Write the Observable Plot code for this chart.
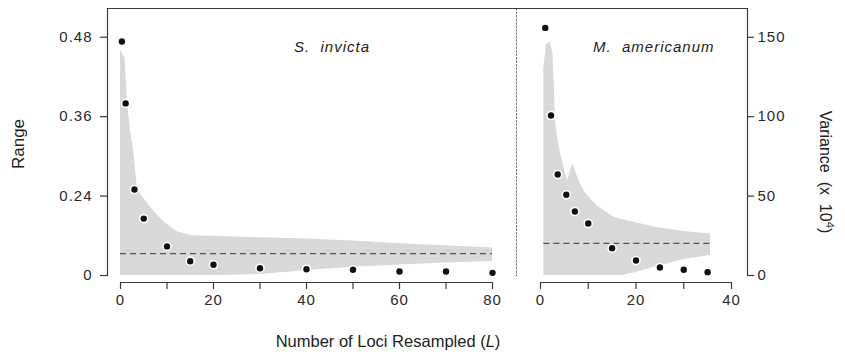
<!DOCTYPE html>
<html><head><meta charset="utf-8">
<script src="https://cdn.jsdelivr.net/npm/d3@7"></script>
<script src="https://cdn.jsdelivr.net/npm/@observablehq/plot@0.6"></script>
<style>
body{margin:0;background:#fff;}
#wrap{position:relative;width:845px;height:364px;font-family:'Liberation Sans',Arial,Helvetica,sans-serif;color:#222;}
.lbl{position:absolute;white-space:nowrap;line-height:1;}
.plotbox{position:absolute;top:0;}
</style></head><body><div id="wrap"></div>
<script>
// ---------- data ----------
// S. invicta (left panel): Range
const invictaL = [0.3, 1.1, 3, 5, 10, 15, 20, 30, 40, 50, 60, 70, 80];
const invictaRange = [0.4735, 0.380, 0.250, 0.206, 0.164, 0.1416, 0.1362, 0.1310, 0.1295, 0.1286, 0.126, 0.126, 0.124];
const invictaEnvL  = [0, 1, 1.5, 2, 2.9, 3.6, 4.5, 5.4, 7.5, 9.7, 12.2, 15.4, 22, 30, 36, 40, 50, 60, 70, 80];
const invictaEnvHi = [0.460, 0.448, 0.384, 0.347, 0.304, 0.253, 0.241, 0.233, 0.214, 0.199, 0.186, 0.180, 0.179, 0.177, 0.176, 0.175, 0.172, 0.168, 0.165, 0.1615];
const invictaEnvLo = [0.12, 0.12, 0.12, 0.12, 0.12, 0.12, 0.12, 0.12, 0.12, 0.12, 0.12, 0.12, 0.12, 0.1215, 0.125, 0.1275, 0.1325, 0.136, 0.139, 0.1412];
const invictaMean = 0.153;

// M. americanum (right panel): Variance (x 10^4)
const americanumL = [1, 2.2, 3.6, 5.4, 7.2, 10, 15, 20, 25, 30, 35];
const americanumVar = [155.9, 100.7, 63.6, 50.8, 40.3, 32.7, 17.2, 9.4, 5.0, 3.6, 2.1];
const americanumEnvL  = [0.7, 1.2, 2.0, 2.6, 2.9, 3.1, 3.5, 4.2, 5.2, 5.7, 6.3, 6.85, 7.5, 8.0, 9.1, 10, 12, 15.4, 17, 20, 24, 30, 35.6];
const americanumEnvHi = [130, 145, 147, 140, 118, 98, 88, 77, 64, 60, 66, 70.3, 64, 60, 53.5, 49.7, 43.4, 36.7, 35.3, 33.2, 30.4, 27.7, 26.2];
const americanumEnvLo = [0, 0, 0, 0, 0, 0, 0, 0, 0, 0, 0, 0, 0, 0, 0, 0, 0, 0, 0, 1.9, 5.4, 10, 12.6];
const americanumMean = 20.2;

// axes
const leftYTicks = [0.12, 0.24, 0.36, 0.48];
const leftYLabels = ["0", "0.24", "0.36", "0.48"];
const leftXTicks = [0, 10, 20, 30, 40, 50, 60, 70, 80];
const leftXLabels = ["0", "", "20", "", "40", "", "60", "", "80"];
const rightYTicks = [0, 50, 100, 150];
const rightYLabels = ["0", "50", "100", "150"];
const rightXTicks = [0, 10, 20, 30, 40];
const rightXLabels = ["0", "", "20", "", "40"];

const panelTitles = ["S.\u00a0 invicta", "M.\u00a0 americanum"];
const yTitleLeft = "Range";
const xTitle = "Number of Loci Resampled";

// ---------- build ----------
const fmt = (ticks, labels) => { const m = new Map(ticks.map((t, i) => [t, labels[i]])); return d => m.get(d) ?? ""; };
const pts = (xs, ys) => xs.map((x, i) => ({x, y: ys[i]}));
const env = (xs, lo, hi) => xs.map((x, i) => ({x, lo: lo[i], hi: hi[i]}));

const LINE = "#3a3a3a", GRAY = "#d8d8d8", DOT = "#111";
const baseStyle = {background: "transparent", fontFamily: "'Liberation Sans', Arial, sans-serif", fontSize: "15px", letterSpacing: "1px", color: "#2a2a2a", overflow: "visible"};

const invPts = pts(invictaL, invictaRange);
const invEnv = env(invictaEnvL, invictaEnvLo, invictaEnvHi);
const amePts = pts(americanumL, americanumVar);
const ameEnv = env(americanumEnvL, americanumEnvLo, americanumEnvHi);

const left = Plot.plot({
  width: 516, height: 320,
  marginLeft: 107, marginRight: 0, marginTop: 8, marginBottom: 45,
  x: {domain: [leftXTicks[0], leftXTicks[leftXTicks.length - 1]], insetLeft: 13, insetRight: 24, label: null},
  y: {domain: [leftYTicks[0], 0.5234], label: null},
  style: baseStyle,
  marks: [
    Plot.areaY(invEnv, {x: "x", y1: "lo", y2: "hi", fill: GRAY, curve: "linear"}),
    Plot.ruleY([invictaMean], {x1: invictaEnvL[0], x2: invictaEnvL[invictaEnvL.length - 1], stroke: "#555", strokeWidth: 1.3, strokeDasharray: "6,4"}),
    Plot.dot(invPts, {x: "x", y: "y", r: 4.8, fill: "white"}),
    Plot.dot(invPts, {x: "x", y: "y", r: 3.2, fill: DOT}),
    Plot.frame({anchor: "left", stroke: LINE, strokeWidth: 1.2}),
    Plot.frame({anchor: "top", stroke: LINE, strokeWidth: 1.2}),
    Plot.axisY({ticks: leftYTicks, tickFormat: fmt(leftYTicks, leftYLabels), tickSize: 7, tickPadding: 8, stroke: LINE, strokeWidth: 1.2, label: null}),
    Plot.axisX({ticks: leftXTicks, tickFormat: fmt(leftXTicks, leftXLabels), tickSize: 7, tickPadding: 5, dy: 7, stroke: LINE, strokeWidth: 1.2, label: null}),
    Plot.ruleY([leftYTicks[0]], {x1: leftXTicks[0], x2: leftXTicks[leftXTicks.length - 1], dy: 7, stroke: LINE, strokeWidth: 1.2}),
    Plot.text([panelTitles[0]], {text: d => d, frameAnchor: "top", dx: 20, dy: 33, fontStyle: "italic", fontSize: 15, letterSpacing: 0, fill: "#222"})
  ]
});

const right = Plot.plot({
  width: 331, height: 320,
  marginLeft: 2, marginRight: 98, marginTop: 8, marginBottom: 45,
  x: {domain: [rightXTicks[0], rightXTicks[rightXTicks.length - 1]], insetLeft: 24, insetRight: 16, label: null},
  y: {domain: [rightYTicks[0], 168.1], label: null},
  style: baseStyle,
  marks: [
    Plot.areaY(ameEnv, {x: "x", y1: "lo", y2: "hi", fill: GRAY, curve: "linear"}),
    Plot.ruleY([americanumMean], {x1: americanumEnvL[0], x2: americanumEnvL[americanumEnvL.length - 1], stroke: "#555", strokeWidth: 1.3, strokeDasharray: "6,4"}),
    Plot.dot(amePts, {x: "x", y: "y", r: 4.8, fill: "white"}),
    Plot.dot(amePts, {x: "x", y: "y", r: 3.2, fill: DOT}),
    Plot.frame({anchor: "left", stroke: "#777", strokeWidth: 1, strokeDasharray: "1.5,2"}),
    Plot.frame({anchor: "top", stroke: LINE, strokeWidth: 1.2}),
    Plot.frame({anchor: "right", stroke: LINE, strokeWidth: 1.2}),
    Plot.axisY({anchor: "right", ticks: rightYTicks, tickFormat: fmt(rightYTicks, rightYLabels), tickSize: 6, tickPadding: 4, stroke: LINE, strokeWidth: 1.2, label: null}),
    Plot.axisX({ticks: rightXTicks, tickFormat: fmt(rightXTicks, rightXLabels), tickSize: 7, tickPadding: 5, dy: 7, stroke: LINE, strokeWidth: 1.2, label: null}),
    Plot.ruleY([rightYTicks[0]], {x1: rightXTicks[0], x2: rightXTicks[rightXTicks.length - 1], dy: 7, stroke: LINE, strokeWidth: 1.2}),
    Plot.text([panelTitles[1]], {text: d => d, frameAnchor: "top-right", textAnchor: "end", dx: -33, dy: 33, fontStyle: "italic", fontSize: 15, letterSpacing: 0, fill: "#222"})
  ]
});

const wrap = document.getElementById("wrap");
const lb = document.createElement("div"); lb.className = "plotbox"; lb.style.left = "0px"; lb.appendChild(left); wrap.appendChild(lb);
const rb = document.createElement("div"); rb.className = "plotbox"; rb.style.left = "514px"; rb.appendChild(right); wrap.appendChild(rb);

function label(html, x, y, rot, size) {
  const d = document.createElement("div");
  d.className = "lbl";
  d.innerHTML = html;
  d.style.left = x + "px"; d.style.top = y + "px"; d.style.fontSize = size + "px";
  d.style.transform = `translate(-50%,-50%) rotate(${rot}deg)`;
  wrap.appendChild(d);
}
label(yTitleLeft, 17.5, 143.5, -90, 17);
label("Variance&nbsp; (x&nbsp; 10<sup style='font-size:0.7em;vertical-align:0.55em;line-height:0'>4</sup>)", 825, 172, 90, 16);
label(xTitle + " (<i>L</i>)", 388, 341, 0, 16.5);
</script></body></html>
